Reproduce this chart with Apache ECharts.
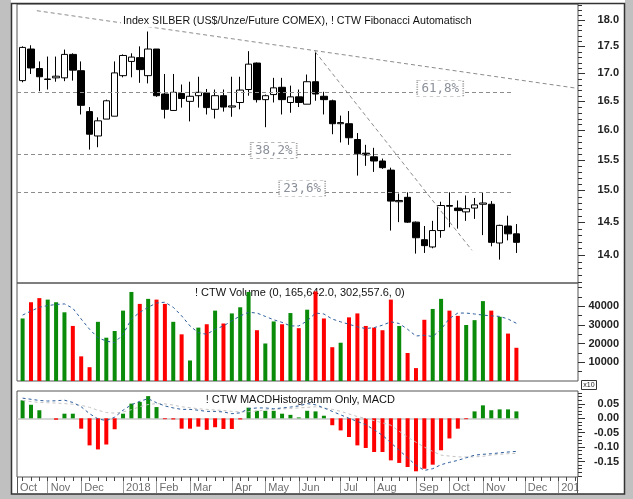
<!DOCTYPE html>
<html>
<head>
<meta charset="utf-8">
<script src="https://cdn.jsdelivr.net/npm/echarts@6/dist/echarts.min.js"></script>
<style>
html, body { margin: 0; padding: 0; background: #fff; }
#chart { width: 633px; height: 499px; }
</style>
</head>
<body>
<div id="chart"></div>
<script>
// weekly silver candles, Oct 2017 - Nov 2018: [open, close, low, high]
const ohlc = [
    [16.87, 17.48, 16.84, 17.50], [17.45, 17.10, 16.99, 17.52], [17.09, 16.94, 16.68, 17.22], [16.89, 16.90, 16.71, 17.31],
    [16.92, 16.95, 16.85, 17.31], [16.92, 17.35, 16.86, 17.44], [17.35, 17.06, 16.87, 17.37], [17.05, 16.43, 16.27, 17.22],
    [16.32, 15.93, 15.67, 16.40], [15.90, 16.16, 15.71, 16.22], [16.19, 16.51, 16.19, 16.53], [16.24, 17.01, 16.24, 17.22],
    [16.96, 17.33, 16.93, 17.35], [17.22, 17.30, 16.93, 17.37], [17.29, 17.07, 16.83, 17.50], [16.96, 17.45, 16.82, 17.78],
    [17.45, 16.60, 16.58, 17.45], [16.63, 16.36, 16.20, 16.99], [16.34, 16.66, 16.34, 16.99], [16.64, 16.55, 16.39, 16.80],
    [16.50, 16.59, 16.15, 16.85], [16.60, 16.66, 16.39, 16.94], [16.65, 16.39, 16.27, 16.72], [16.36, 16.60, 16.20, 16.71],
    [16.60, 16.40, 16.32, 16.71], [16.40, 16.42, 16.23, 16.94], [16.48, 16.70, 16.36, 16.94], [16.71, 17.17, 16.60, 17.41],
    [17.19, 16.53, 16.48, 17.20], [16.53, 16.60, 16.05, 16.62], [16.62, 16.74, 16.48, 16.92], [16.75, 16.53, 16.27, 16.92],
    [16.48, 16.58, 16.30, 16.78], [16.58, 16.48, 16.40, 16.71], [16.45, 16.85, 16.45, 16.98], [16.85, 16.63, 16.51, 17.40],
    [16.59, 16.53, 16.27, 16.67], [16.51, 16.11, 15.93, 16.53], [16.11, 16.13, 15.79, 16.25], [16.11, 15.87, 15.75, 16.33],
    [15.84, 15.60, 15.24, 15.95], [15.61, 15.58, 15.40, 15.75], [15.55, 15.48, 15.30, 15.70], [15.48, 15.37, 15.35, 15.52],
    [15.33, 14.83, 14.37, 15.37], [14.82, 14.84, 14.50, 14.95], [14.89, 14.50, 14.49, 14.97], [14.50, 14.26, 14.02, 14.51],
    [14.23, 14.14, 14.03, 14.44], [14.12, 14.37, 14.10, 14.52], [14.37, 14.76, 14.26, 14.82], [14.76, 14.75, 14.42, 14.97],
    [14.72, 14.68, 14.40, 14.84], [14.66, 14.71, 14.52, 14.92], [14.72, 14.77, 14.55, 14.88], [14.78, 14.80, 14.30, 14.96],
    [14.78, 14.19, 14.13, 14.83], [14.18, 14.45, 13.93, 14.46], [14.44, 14.32, 14.22, 14.60], [14.32, 14.19, 14.03, 14.47]
];
const volume = [
    33500, 42200, 44400, 43600, 42200, 36800, 29500, 13200, 7400, 31700,
    23200, 26800, 37700, 47700, 41300, 44000, 43600, 41300, 31700, 25000,
    11000, 28600, 30400, 37700, 30800, 36200, 39500, 47700, 27200, 20100,
    31900, 30400, 36400, 28300, 38200, 48000, 33500, 18100, 20500, 34100,
    36200, 29500, 28600, 27200, 43600, 29500, 15000, 6900, 32800, 38600,
    44000, 37700, 34900, 30000, 32600, 42800, 37700, 34400, 25400, 17800
];
const volumeAvg = [
    35300, 37500, 39500, 40400, 41000, 41300, 39000, 33200, 27700, 23200,
    21400, 20500, 25000, 33200, 36800, 39500, 41800, 42200, 39500, 34900,
    29500, 25900, 25000, 27700, 29500, 32200, 34900, 36800, 36400, 34600,
    32800, 31400, 29500, 29500, 32200, 36400, 35900, 33200, 31700, 30400,
    29000, 28100, 28600, 29900, 31700, 30800, 27700, 24100, 24500, 23800,
    27700, 33500, 36400, 36400, 35900, 35300, 34900, 34600, 33200, 30900
];
const macdHist = [
    0.0625, 0.047, 0.028, 0, -0.005, 0.016, 0.016, -0.036, -0.094, -0.108,
    -0.091, -0.038, 0.016, 0.051, 0.057, 0.077, 0.039, -0.003, -0.004, -0.036,
    -0.036, -0.029, -0.040, -0.031, -0.037, -0.037, -0.004, 0.037, 0.026, 0.026,
    0.026, 0.016, 0.012, 0.003, 0.026, 0.024, 0.009, -0.024, -0.042, -0.065,
    -0.094, -0.103, -0.117, -0.117, -0.146, -0.155, -0.169, -0.184, -0.175, -0.161,
    -0.111, -0.070, -0.036, -0.003, 0.024, 0.045, 0.028, 0.031, 0.031, 0.024
];
const macdLine = [
    0.070, 0.066, 0.062, 0.060, 0.061, 0.063, 0.055, 0.040, 0.016, -0.002,
    -0.008, 0.004, 0.028, 0.047, 0.059, 0.068, 0.054, 0.043, 0.036, 0.031,
    0.031, 0.028, 0.024, 0.024, 0.022, 0.016, 0.019, 0.033, 0.036, 0.036,
    0.033, 0.036, 0.039, 0.043, 0.051, 0.047, 0.036, 0.024, 0.012, 0.000,
    -0.011, -0.022, -0.040, -0.059, -0.085, -0.111, -0.137, -0.163, -0.181, -0.175,
    -0.161, -0.153, -0.146, -0.137, -0.128, -0.125, -0.123, -0.120, -0.117, -0.115
];
const signalLine = [
    0.062, 0.058, 0.055, 0.054, 0.053, 0.051, 0.049, 0.045, 0.038, 0.028,
    0.020, 0.018, 0.022, 0.030, 0.040, 0.048, 0.051, 0.050, 0.046, 0.040,
    0.037, 0.033, 0.031, 0.029, 0.027, 0.024, 0.022, 0.023, 0.025, 0.029,
    0.031, 0.033, 0.034, 0.036, 0.038, 0.040, 0.036, 0.031, 0.024, 0.015,
    0.006, 0.000, -0.008, -0.016, -0.024, -0.045, -0.065, -0.083, -0.100, -0.115,
    -0.128, -0.131, -0.134, -0.134, -0.134, -0.132, -0.128, -0.125, -0.123, -0.122
];
// week number of the first bar of each month (week 0 = 6 Oct 2017)
const monthStartWeek = [0, 4, 8, 13, 17, 21, 26, 30, 34, 39, 43, 48, 52, 56, 61, 65];
const monthLabels = ['Oct', 'Nov', 'Dec', '2018', 'Feb', 'Mar', 'Apr', 'May', 'Jun', 'Jul', 'Aug', 'Sep', 'Oct', 'Nov', 'Dec', '2019'];
const priceTicks = [14, 14.5, 15, 15.5, 16, 16.5, 17, 17.5, 18];
const volumeTicks = [10000, 20000, 30000, 40000];
const volumeMinorTicks = [5000, 15000, 25000, 35000, 45000, 50000];
const macdTicks = [0.05, 0, -0.05, -0.10, -0.15];
const macdMinorTicks = [0.0875, 0.075, 0.0625, 0.0375, 0.025, 0.0125, -0.0125, -0.025, -0.0375, -0.0625, -0.075, -0.0875,
    -0.1125, -0.125, -0.1375, -0.1625, -0.175, -0.1875, -0.2];
const fibLevels = [16.66, 15.59, 14.97];
const fibLabels = ['61,8%', '38,2%', '23,6%'];
const fibLabelWeek = [50.9, 31.0, 34.4];
const trendLines = [
    [[2.7, 18.18], [67.36, 16.73]],
    [[35.95, 17.40], [54.69, 14.07]]
];

const xMin = 0.33, xMax = 67.36;
const weekNo = ohlc.map((d, k) => k + 1);
const GREEN = '#0a8c0a', RED = '#ff0000';
const FONT = '"Liberation Sans", Arial, sans-serif';

const chart = echarts.init(document.getElementById('chart'));

const gridBase = {left: 17, right: 55, show: true, borderColor: '#555', borderWidth: 1, backgroundColor: 'transparent'};
const hiddenX = gi => ({type: 'value', gridIndex: gi, min: xMin, max: xMax, show: false});
const labelValues = monthStartWeek.map(v => Math.max(v, xMin));

const rightAxis = (gi, min, max, labels, majorTicks, fmt) => ({
    type: 'value', gridIndex: gi, position: 'right', min, max,
    axisLine: {show: false, onZero: false}, splitLine: {show: false},
    axisTick: {show: true, customValues: majorTicks, length: 7, lineStyle: {color: '#333'}},
    axisLabel: {customValues: labels, formatter: fmt, align: 'right', margin: 41,
        color: '#222', fontWeight: 'bold', fontSize: 11, fontFamily: FONT}
});
const minorAxis = (gi, min, max, ticks) => ({
    type: 'value', gridIndex: gi, position: 'right', min, max,
    axisLine: {show: false, onZero: false}, splitLine: {show: false}, axisLabel: {show: false},
    axisTick: {show: true, customValues: ticks, length: 4, lineStyle: {color: '#333'}}
});

const dashed = {color: '#8c8c8c', type: [4, 3], width: 1};

const option = {
    animation: false,
    backgroundColor: '#fff',
    grid: [
        {...gridBase, top: 4, height: 279},
        {...gridBase, top: 283, height: 98},
        {...gridBase, top: 391, height: 86}
    ],
    xAxis: [
        hiddenX(0), hiddenX(1),
        {
            type: 'value', gridIndex: 2, min: xMin, max: xMax, position: 'bottom',
            axisLine: {show: false, onZero: false}, splitLine: {show: false},
            axisTick: {show: true, customValues: monthStartWeek, length: 16, lineStyle: {color: '#9a9a9a'}},
            axisLabel: {
                customValues: labelValues, align: 'left', margin: 5, padding: [0, 0, 0, 3],
                color: '#6e6e6e', fontSize: 11, fontFamily: FONT,
                formatter: v => {
                    let best = 0;
                    labelValues.forEach((lv, k) => { if (Math.abs(lv - v) < Math.abs(labelValues[best] - v)) best = k; });
                    return monthLabels[best];
                }
            }
        },
        {
            type: 'value', gridIndex: 2, min: xMin, max: xMax, position: 'bottom',
            axisLine: {show: false, onZero: false}, splitLine: {show: false}, axisLabel: {show: false},
            axisTick: {show: true, customValues: Array.from({length: 67}, (d, k) => k + 1), length: 4, lineStyle: {color: '#444'}}
        }
    ],
    yAxis: [
        {type: 'log', gridIndex: 0, position: 'right', min: 13.586, max: 18.311, show: false},
        rightAxis(1, 0, 52500, volumeTicks, volumeTicks, v => String(v)),
        minorAxis(1, 0, 52500, volumeMinorTicks),
        rightAxis(2, -0.2038, 0.0948, macdTicks, macdTicks, v => v.toFixed(2)),
        minorAxis(2, -0.2038, 0.0948, macdMinorTicks)
    ],
    series: [
        {
            type: 'candlestick', xAxisIndex: 0, yAxisIndex: 0, barWidth: 7,
            data: ohlc.map((d, k) => [weekNo[k], d[0], d[1], d[2], d[3]]),
            encode: {x: 0, y: [1, 2, 3, 4]},
            itemStyle: {color: '#fff', color0: '#000', borderColor: '#000', borderColor0: '#000', borderWidth: 1},
            markLine: {
                silent: true, symbol: ['none', 'none'], label: {show: false}, lineStyle: dashed,
                data: [
                    ...fibLevels.map(lv => [{coord: [xMin, lv]}, {coord: [59.5, lv]}]),
                    ...trendLines.map(t => [{coord: t[0]}, {coord: t[1]}])
                ]
            },
            markPoint: {
                silent: true, symbol: 'rect', symbolSize: [46, 16],
                itemStyle: {color: '#fff', borderColor: '#a0a0a0', borderWidth: 1, borderType: [2, 2]},
                label: {show: true, position: 'inside', formatter: p => p.value, color: '#8a8f99',
                    fontFamily: '"DejaVu Sans Mono", monospace', fontSize: 12.5},
                data: fibLabels.map((t, k) => ({coord: [fibLabelWeek[k], fibLevels[k]], value: t, symbolOffset: [0, -4]}))
            }
        },
        {
            type: 'bar', xAxisIndex: 1, yAxisIndex: 1, barWidth: 4,
            data: volume.map((v, k) => ({
                value: [weekNo[k], v],
                itemStyle: {color: ohlc[k][1] >= ohlc[k][0] ? GREEN : RED}
            }))
        },
        {
            type: 'line', xAxisIndex: 1, yAxisIndex: 1, symbol: 'none', z: 3,
            lineStyle: {color: '#2c5d9b', width: 1, type: [3, 3]},
            data: volumeAvg.map((v, k) => [weekNo[k], v])
        },
        {
            type: 'bar', xAxisIndex: 2, yAxisIndex: 3, barWidth: 4,
            data: macdHist.map((v, k) => ({value: [weekNo[k], v], itemStyle: {color: v >= 0 ? GREEN : RED}})),
            markLine: {
                silent: true, symbol: ['none', 'none'], label: {show: false}, z: 1,
                lineStyle: {color: '#c8c8c8', type: 'solid', width: 1.5},
                data: [[{coord: [xMin, 0]}, {coord: [60.3, 0]}]]
            }
        },
        {
            type: 'line', xAxisIndex: 2, yAxisIndex: 3, symbol: 'none', z: 3,
            lineStyle: {color: '#c4c4c4', width: 1, type: [3, 3]},
            data: signalLine.map((v, k) => [weekNo[k], v])
        },
        {
            type: 'line', xAxisIndex: 2, yAxisIndex: 3, symbol: 'none', z: 4,
            lineStyle: {color: '#2c5d9b', width: 1, type: [3, 3]},
            data: macdLine.map((v, k) => [weekNo[k], v])
        }
    ]
};
chart.setOption(option);

const titleText = (text, x, y, z, size, bg) => ({
    type: 'text', x, y, z, silent: true,
    style: {text, font: size + 'px ' + FONT, fill: '#111', align: 'left', verticalAlign: 'middle',
        backgroundColor: bg || 'transparent', padding: bg ? [1, 2] : 0}
});

const frame = [
    {type: 'rect', z: 200, silent: true, shape: {x: 0, y: 0, width: 11, height: 499}, style: {fill: '#c0c0c0'}},
    {type: 'rect', z: 200, silent: true, shape: {x: 625, y: 0, width: 8, height: 499}, style: {fill: '#c0c0c0'}},
    {type: 'rect', z: 200, silent: true, shape: {x: 0, y: 494, width: 633, height: 5}, style: {fill: '#c0c0c0'}},
    {type: 'rect', z: 199, silent: true, shape: {x: 578.5, y: 478, width: 46, height: 15.5}, style: {fill: '#fff'}},
    {type: 'rect', z: 201, silent: true, shape: {x: 11.5, y: 3.5, width: 613, height: 490.5}, style: {fill: 'none', stroke: '#333', lineWidth: 1.5}},
    {type: 'line', z: 201, silent: true, shape: {x1: 17.5, y1: 477, x2: 17.5, y2: 494}, style: {stroke: '#555', lineWidth: 1}},
    {type: 'line', z: 201, silent: true, shape: {x1: 577.5, y1: 477, x2: 577.5, y2: 494}, style: {stroke: '#555', lineWidth: 1}},
    {type: 'rect', z: 201, silent: true, shape: {x: 581.5, y: 380.5, width: 15, height: 9}, style: {fill: '#fff', stroke: '#333', lineWidth: 1}},
    {type: 'text', z: 202, silent: true, x: 589, y: 385, style: {text: 'x10', font: '7px ' + FONT, fill: '#222', align: 'center', verticalAlign: 'middle'}},
    titleText('Index SILBER (US$/Unze/Future COMEX), ! CTW Fibonacci Automatisch', 121, 20.7, 100, 10.7, '#fff'),
    titleText('! CTW Volume (0, 165,642.0, 302,557.6, 0)', 195, 293.3, 1, 11),
    titleText('! CTW MACDHistogramm Only, MACD', 205.7, 400, 1, 11)
];

const priceAxis = [];
for (let v = 136; v <= 183; v++) {
    const y = Math.round(chart.convertToPixel({yAxisIndex: 0}, v / 10)) + 0.5;
    priceAxis.push({type: 'line', silent: true, z: 150,
        shape: {x1: 578, y1: y, x2: v % 5 === 0 ? 585 : 582, y2: y}, style: {stroke: '#333', lineWidth: 1}});
}
priceTicks.forEach(v => {
    priceAxis.push({type: 'text', silent: true, z: 150, x: 619, y: chart.convertToPixel({yAxisIndex: 0}, v),
        style: {text: v.toFixed(1), font: 'bold 11px ' + FONT, fill: '#222', align: 'right', verticalAlign: 'middle'}});
});

chart.setOption({graphic: {elements: [...frame, ...priceAxis]}});
</script>
</body>
</html>
